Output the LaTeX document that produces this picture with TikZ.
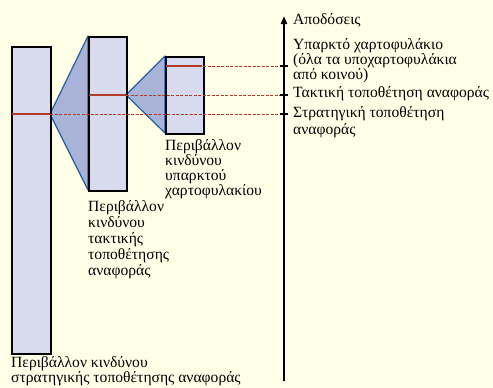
\documentclass[tikz,border=0pt]{standalone}
\usepackage{fontspec}
\setmainfont{Liberation Serif}
\usetikzlibrary{arrows.meta}
\definecolor{bg}{HTML}{FFFFE8}
\definecolor{boxfill}{HTML}{D8DAEE}
\definecolor{trifill}{HTML}{A9B3D8}
\definecolor{triedge}{HTML}{1F5FA8}
\definecolor{redline}{HTML}{B23A28}
\begin{document}
\begin{tikzpicture}[x=1pt,y=-1pt,
  rbox/.style={draw=black,line width=2pt,fill=boxfill},
  fan/.style={fill=trifill,draw=triedge,line width=1.2pt,line join=round},
  level/.style={draw=redline,line width=1.6pt},
  guide/.style={draw=redline,dashed,dash pattern=on 3pt off 1.5pt,line width=0.6pt},
  lbl/.style={anchor=north west,inner sep=0pt,align=left,font=\fontsize{15.6}{15}\selectfont},
  tick/.style={draw=black,line width=1.2pt}]
\useasboundingbox[fill=bg] (0,0) rectangle (493,388);
% fans
\coordinate (p1) at (50,114);
\coordinate (p2) at (126,95);
\fill[fan] (p1) -- (88,36) -- (88,190) -- cycle;
\fill[fan] (p2) -- (165,56) -- (165,133) -- cycle;
% boxes
\node[rbox,minimum width=39pt,minimum height=307pt,inner sep=0pt,anchor=north west] (b1) at (11,46) {};
\node[rbox,minimum width=38pt,minimum height=154pt,inner sep=0pt,anchor=north west] (b2) at (88,36) {};
\node[rbox,minimum width=38pt,minimum height=77pt,inner sep=0pt,anchor=north west] (b3) at (165,56) {};
% axis
\coordinate (a0) at (284,381);
\coordinate (a1) at (284,16);
\draw[line width=2pt,-{Triangle[length=8pt,width=6pt]}] (a0) -- (a1);
% levels
\draw[level] (12,114) -- (p1);
\draw[level] (89,95) -- (p2);
\draw[level] (166,66) -- (202,66);
\coordinate (t1) at (284,66);
\coordinate (t2) at (284,95);
\coordinate (t3) at (284,114);
\draw[guide] (203,66) -- (t1);
\draw[guide] (p2) -- (t2);
\draw[guide] (p1) -- (t3);
\foreach \t in {t1,t2,t3}{\draw[tick] ([xshift=-4pt]\t) -- ([xshift=4pt]\t);}
% labels
\node[lbl] (l0) at (293,13) {Αποδόσεις};
\node[lbl] (l1) at (293,38) {Υπαρκτό χαρτοφυλάκιο\\(όλα τα υποχαρτοφυλάκια\\από κοινού)};
\node[lbl] (l2) at (293,86) {Τακτική τοποθέτηση αναφοράς};
\node[lbl,font=\fontsize{15.6}{17}\selectfont] (l3) at (293,106) {Στρατηγική τοποθέτηση\\αναφοράς};
\node[lbl] (l4) at (165,139) {Περιβάλλον\\κινδύνου\\υπαρκτού\\χαρτοφυλακίου};
\node[lbl,font=\fontsize{15.6}{16}\selectfont] (l5) at (88,200) {Περιβάλλον\\κινδύνου\\τακτικής\\τοποθέτησης\\αναφοράς};
\node[lbl] (l6) at (11,356) {Περιβάλλον κινδύνου\\στρατηγικής τοποθέτησης αναφοράς};
\end{tikzpicture}
\end{document}
